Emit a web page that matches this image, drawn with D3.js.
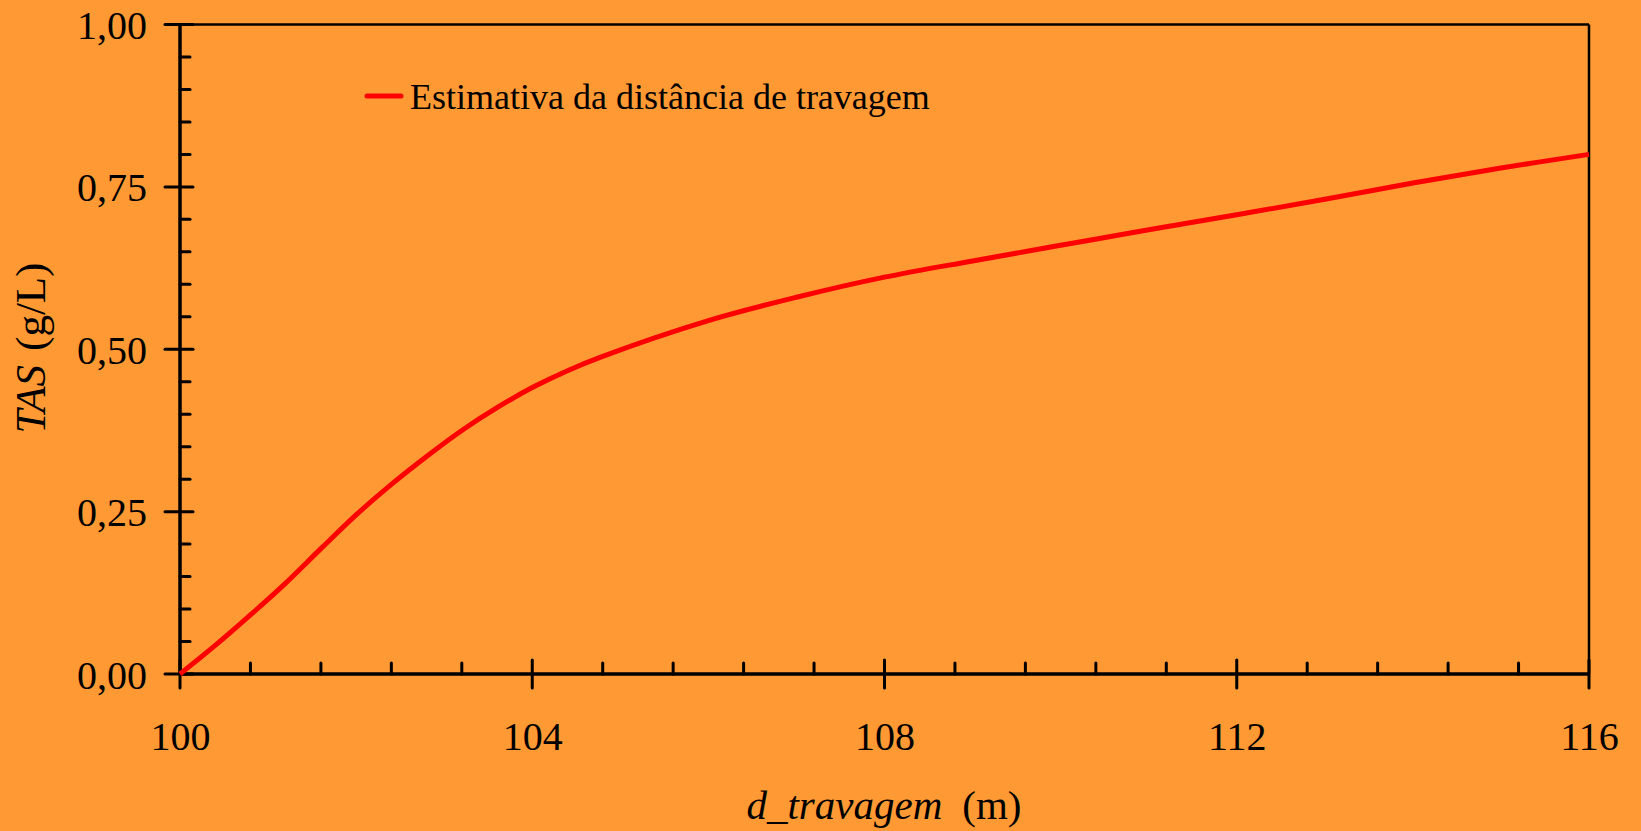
<!DOCTYPE html>
<html>
<head>
<meta charset="utf-8">
<script src="https://cdn.jsdelivr.net/npm/d3@7"></script>
<style>
  html, body { margin: 0; padding: 0; background: #FF9933; }
  svg { display: block; }
  text { font-family: "Liberation Serif", "Times New Roman", serif; fill: #000; }
</style>
</head>
<body>
<svg id="chart" width="1641" height="831"></svg>
<script>
// ---- data ----
const distances = [100, 100.4, 100.8, 101.2, 101.6, 102, 102.4, 102.8, 103.2, 103.6, 104, 104.4, 104.8, 106, 107, 108, 109, 110, 111, 112, 113, 114, 115, 116];
const tasValues = [0, 0.044, 0.091, 0.14, 0.193, 0.245, 0.292, 0.335, 0.375, 0.41, 0.441, 0.467, 0.489, 0.544, 0.580, 0.611, 0.636, 0.66, 0.684, 0.707, 0.731, 0.756, 0.779, 0.80];
const xTicks = [100, 104, 108, 112, 116];
const yTicks = [0, 0.25, 0.5, 0.75, 1.0];
const seriesName = "Estimativa da distância de travagem";
const xTitle = "d_travagem";
const xUnit = "(m)";
const yTitle = "TAS";
const yUnit = "(g/L)";

// ---- layout ----
const svg = d3.select("#chart");
const L = 180, R = 1589, T = 24.5, B = 674;
const x = d3.scaleLinear().domain([100, 116]).range([L, R]);
const y = d3.scaleLinear().domain([0, 1]).range([B, T]);
const fmt = d => d.toFixed(2).replace(".", ",");

svg.append("rect").attr("width", 1641).attr("height", 831).attr("fill", "#FF9933");

// top & right frame
svg.append("line").attr("x1", L).attr("x2", R).attr("y1", T).attr("y2", T).attr("stroke", "#000").attr("stroke-width", 2.5);
svg.append("line").attr("x1", R).attr("x2", R).attr("y1", T).attr("y2", B).attr("stroke", "#000").attr("stroke-width", 2.5);

// minor ticks
const xMinor = d3.range(100, 116.001, 0.8).filter(v => !xTicks.some(t => Math.abs(t - v) < 1e-6));
const yMinor = d3.range(0, 1.0001, 0.05).filter(v => !yTicks.some(t => Math.abs(t - v) < 1e-6));

const gx = svg.append("g").attr("transform", `translate(0,${B})`)
  .call(d3.axisBottom(x).tickValues(xTicks).tickSize(0).tickPadding(0).tickFormat(d3.format("d")));
gx.select(".domain").remove();
gx.selectAll("text").attr("font-size", 40).attr("y", 76).attr("dy", null)
  .style("font-family", "Liberation Serif");

const gy = svg.append("g").attr("transform", `translate(${L},0)`)
  .call(d3.axisLeft(y).tickValues(yTicks).tickSize(0).tickPadding(0).tickFormat(fmt));
gy.select(".domain").remove();
gy.selectAll("text").attr("font-size", 40).attr("x", -33).attr("dy", 14)
  .style("font-family", "Liberation Serif");

const tickG = svg.append("g").attr("stroke", "#000").attr("stroke-linecap", "round");
tickG.selectAll(".xmaj").data(xTicks).join("line")
  .attr("x1", d => x(d)).attr("x2", d => x(d)).attr("y1", B - 14).attr("y2", B + 14).attr("stroke-width", 3);
tickG.selectAll(".xmin").data(xMinor).join("line")
  .attr("x1", d => x(d)).attr("x2", d => x(d)).attr("y1", B - 11).attr("y2", B).attr("stroke-width", 3);
tickG.selectAll(".ymaj").data(yTicks).join("line")
  .attr("y1", d => y(d)).attr("y2", d => y(d)).attr("x1", L - 15).attr("x2", L + 13).attr("stroke-width", 3);
tickG.selectAll(".ymin").data(yMinor).join("line")
  .attr("y1", d => y(d)).attr("y2", d => y(d)).attr("x1", L).attr("x2", L + 10).attr("stroke-width", 3);

// left & bottom axis lines
svg.append("line").attr("x1", L).attr("x2", L).attr("y1", T).attr("y2", B).attr("stroke", "#000").attr("stroke-width", 3.5);
svg.append("line").attr("x1", L).attr("x2", R).attr("y1", B).attr("y2", B).attr("stroke", "#000").attr("stroke-width", 3.5);

// curve
const data = distances.map((d, i) => ({ x: d, y: tasValues[i] }));
svg.append("path").datum(data)
  .attr("fill", "none").attr("stroke", "#FF0000").attr("stroke-width", 5)
  .attr("d", d3.line().x(d => x(d.x)).y(d => y(d.y)).curve(d3.curveCatmullRom.alpha(0.5)));

// legend
svg.append("line").attr("x1", 367).attr("x2", 401).attr("y1", 96).attr("y2", 96)
  .attr("stroke", "#FF0000").attr("stroke-width", 5).attr("stroke-linecap", "round");
svg.append("text").attr("x", 410).attr("y", 109).attr("font-size", 36).text(seriesName);

// x title
const xt = svg.append("text").attr("x", 884).attr("y", 819).attr("text-anchor", "middle").attr("font-size", 41);
xt.append("tspan").attr("font-style", "italic").text(xTitle);
xt.append("tspan").attr("dx", 20).text(xUnit);

// y title
const yt = svg.append("text").attr("transform", "translate(45,348) rotate(-90)").attr("text-anchor", "middle").attr("font-size", 43);
yt.append("tspan").attr("font-style", "italic").text(yTitle);
yt.append("tspan").attr("dx", 14).text(yUnit);
</script>
</body>
</html>
